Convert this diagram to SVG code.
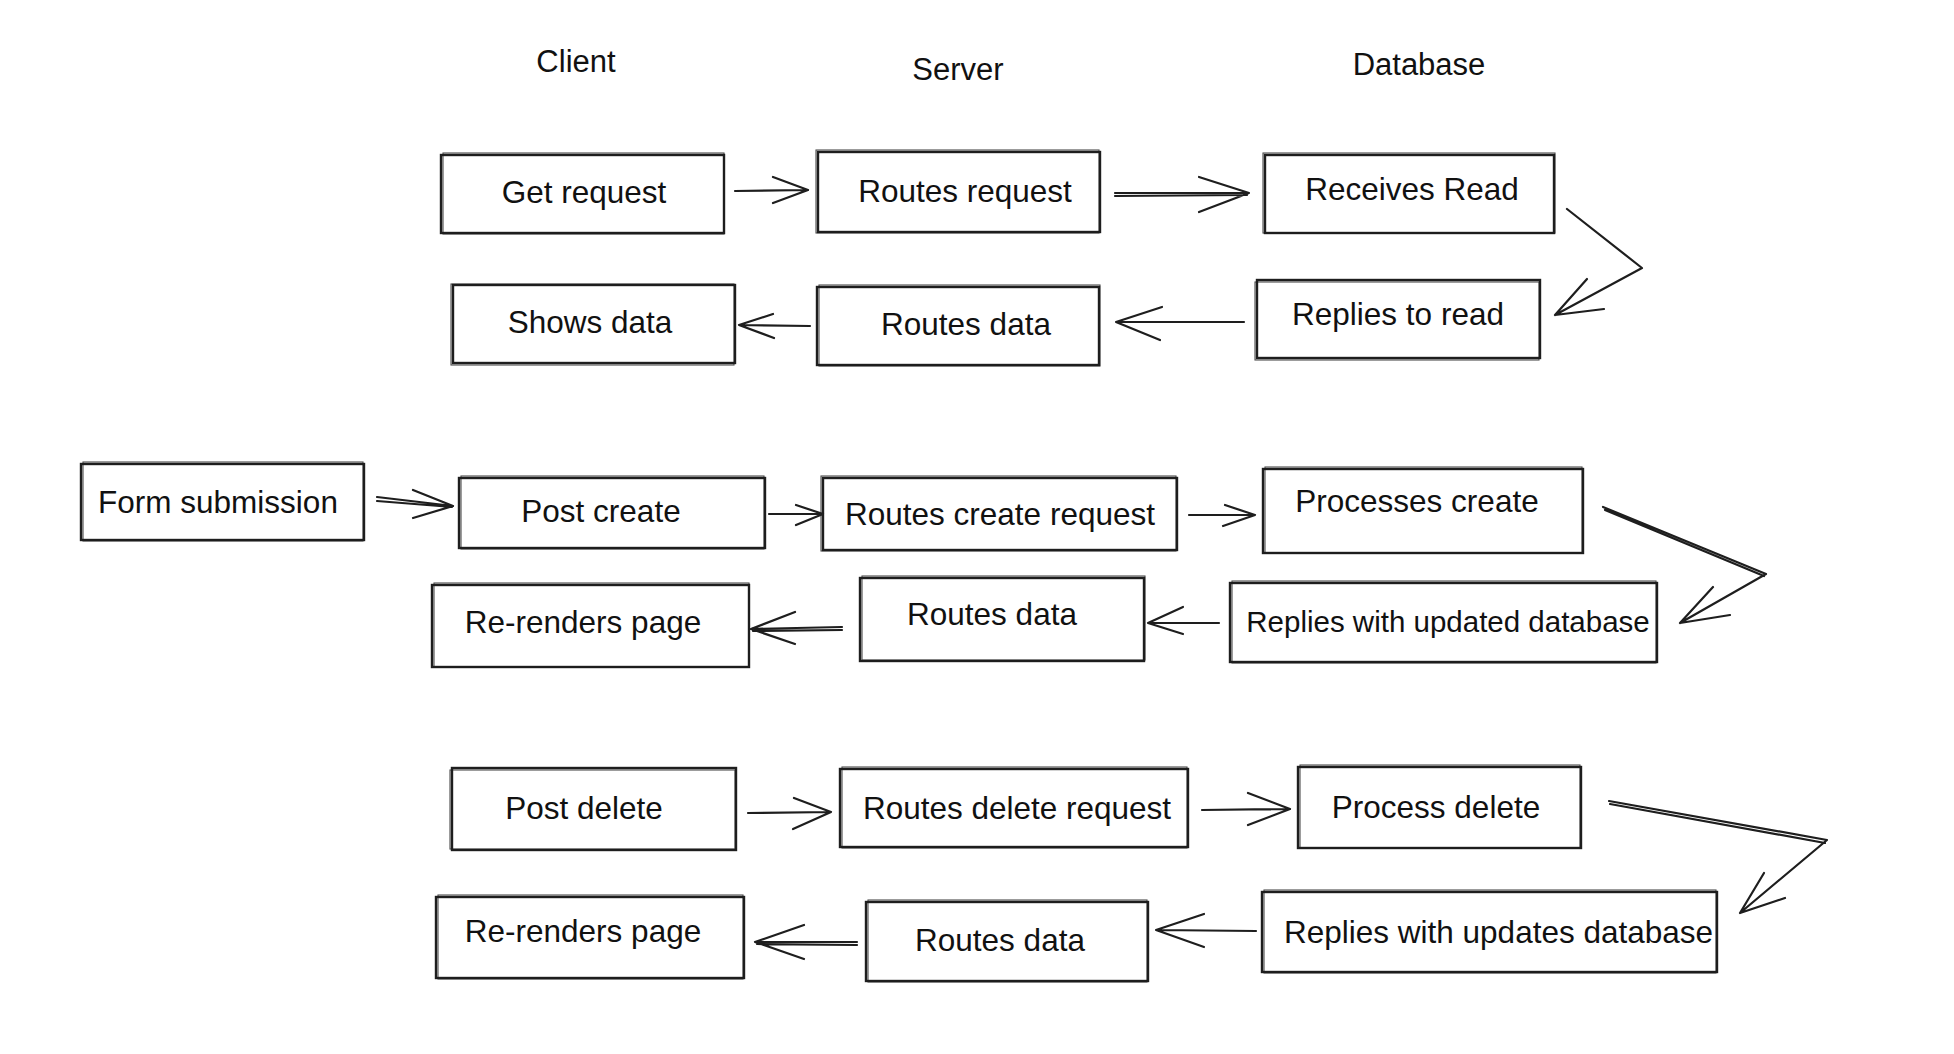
<svg xmlns="http://www.w3.org/2000/svg" width="1954" height="1054" viewBox="0 0 1954 1054">
<style>
  .bg { fill: #ffffff; }
  .box { fill: none; stroke: #1e1e1e; stroke-width: 2.4; }
  .box2 { fill: none; stroke: #1e1e1e; stroke-width: 1.1; opacity: 0.8; }
  .t { font-family: "Liberation Sans", Arial, Helvetica, sans-serif; font-size: 31.5px; fill: #111111; text-anchor: middle; }
  .h { font-family: "Liberation Sans", Arial, Helvetica, sans-serif; font-size: 31px; fill: #111111; text-anchor: middle; }
  .c { fill: none; stroke: #1e1e1e; stroke-width: 2.2; stroke-linecap: round; stroke-linejoin: round; }
</style>
<rect class="bg" x="0" y="0" width="1954" height="1054"/>

<g id="headers">
  <text class="h" x="576" y="72">Client</text>
  <text class="h" x="958" y="80">Server</text>
  <text class="h" x="1419" y="75">Database</text>
</g>

<g id="get-request">
  <rect class="box" x="441" y="155" width="283" height="78"/>
  <rect class="box2" x="443" y="153" width="281" height="81"/>
  <text class="t" x="584" y="203">Get request</text>
</g>
<g id="routes-request">
  <rect class="box" x="818" y="152" width="282" height="80"/>
  <rect class="box2" x="816" y="150" width="283" height="83"/>
  <text class="t" x="965" y="202">Routes request</text>
</g>
<g id="receives-read">
  <rect class="box" x="1265" y="155" width="289" height="78"/>
  <rect class="box2" x="1263" y="153" width="292" height="80"/>
  <text class="t" x="1412" y="200">Receives Read</text>
</g>
<g id="replies-to-read">
  <rect class="box" x="1257" y="280" width="283" height="78"/>
  <rect class="box2" x="1255" y="282" width="284" height="78"/>
  <text class="t" x="1398" y="325">Replies to read</text>
</g>
<g id="routes-data-1">
  <rect class="box" x="817" y="287" width="282" height="78"/>
  <rect class="box2" x="819" y="285" width="281" height="81"/>
  <text class="t" x="966" y="335">Routes data</text>
</g>
<g id="shows-data">
  <rect class="box" x="453" y="285" width="282" height="78"/>
  <rect class="box2" x="451" y="284" width="283" height="81"/>
  <text class="t" x="590" y="333">Shows data</text>
</g>

<g id="form-submission">
  <rect class="box" x="81" y="464" width="283" height="76"/>
  <rect class="box2" x="83" y="462" width="280" height="79"/>
  <text class="t" x="218" y="513">Form submission</text>
</g>
<g id="post-create">
  <rect class="box" x="459" y="478" width="306" height="70"/>
  <rect class="box2" x="461" y="476" width="303" height="73"/>
  <text class="t" x="601" y="522">Post create</text>
</g>
<g id="routes-create-request">
  <rect class="box" x="823" y="478" width="354" height="72"/>
  <rect class="box2" x="821" y="476" width="355" height="75"/>
  <text class="t" x="1000" y="525">Routes create request</text>
</g>
<g id="processes-create">
  <rect class="box" x="1263" y="469" width="320" height="84"/>
  <rect class="box2" x="1265" y="467" width="317" height="86"/>
  <text class="t" x="1417" y="512">Processes create</text>
</g>
<g id="replies-updated">
  <rect class="box" x="1230" y="583" width="427" height="79"/>
  <rect class="box2" x="1232" y="581" width="424" height="82"/>
  <text class="t" x="1448" y="632" style="font-size:29.5px">Replies with updated database</text>
</g>
<g id="routes-data-2">
  <rect class="box" x="860" y="578" width="284" height="83"/>
  <rect class="box2" x="862" y="576" width="283" height="84"/>
  <text class="t" x="992" y="625">Routes data</text>
</g>
<g id="re-renders-1">
  <rect class="box" x="432" y="585" width="317" height="82"/>
  <rect class="box2" x="434" y="583" width="315" height="84"/>
  <text class="t" x="583" y="633">Re-renders page</text>
</g>

<g id="post-delete">
  <rect class="box" x="452" y="768" width="284" height="82"/>
  <rect class="box2" x="450" y="770" width="285" height="79"/>
  <text class="t" x="584" y="819">Post delete</text>
</g>
<g id="routes-delete-request">
  <rect class="box" x="840" y="769" width="348" height="78"/>
  <rect class="box2" x="842" y="767" width="345" height="81"/>
  <text class="t" x="1017" y="819">Routes delete request</text>
</g>
<g id="process-delete">
  <rect class="box" x="1298" y="767" width="283" height="81"/>
  <rect class="box2" x="1300" y="765" width="280" height="83"/>
  <text class="t" x="1436" y="818">Process delete</text>
</g>
<g id="replies-updates">
  <rect class="box" x="1262" y="892" width="455" height="80"/>
  <rect class="box2" x="1264" y="890" width="452" height="83"/>
  <text class="t" x="1284" y="943" style="text-anchor:start">Replies with updates database</text>
</g>
<g id="routes-data-3">
  <rect class="box" x="866" y="902" width="282" height="79"/>
  <rect class="box2" x="868" y="900" width="279" height="82"/>
  <text class="t" x="1000" y="951">Routes data</text>
</g>
<g id="re-renders-2">
  <rect class="box" x="436" y="897" width="308" height="81"/>
  <rect class="box2" x="438" y="895" width="305" height="84"/>
  <text class="t" x="583" y="942">Re-renders page</text>
</g>

<g id="connectors">
  <path class="c" d="M735 191 L808 190 M773 177 L808 190 L773 203"/>
  <path class="c" d="M1115 193 L1249 193 M1115 196 L1247 195 M1199 177 L1249 193 L1199 212"/>
  <path class="c" d="M1567 209 L1642 268 L1555 315 M1587 279 L1555 315 L1604 309"/>
  <path class="c" d="M1244 322 L1116 322 M1162 307 L1116 322 L1160 340"/>
  <path class="c" d="M810 326 L739 325 M773 314 L739 325 L774 338"/>

  <path class="c" d="M377 497 L453 506 M377 501 L452 507 M413 490 L453 506 L413 518"/>
  <path class="c" d="M769 514 L823 514 M796 505 L823 514 L796 525"/>
  <path class="c" d="M1189 515 L1255 515 M1225 505 L1255 515 L1223 526"/>
  <path class="c" d="M1603 507 L1766 574 L1680 623 M1605 510 L1764 576 M1713 587 L1680 623 L1730 615"/>
  <path class="c" d="M1219 623 L1148 623 M1183 607 L1148 623 L1183 634"/>
  <path class="c" d="M842 627 L751 629 M842 630 L753 631 M795 612 L751 629 L795 644"/>

  <path class="c" d="M748 813 L831 812 M794 798 L831 812 L793 829"/>
  <path class="c" d="M1202 810 L1290 809 M1248 793 L1290 809 L1248 825"/>
  <path class="c" d="M1609 801 L1827 840 L1740 913 M1610 804 L1825 843 M1764 873 L1740 913 L1785 898"/>
  <path class="c" d="M1256 931 L1156 930 M1204 914 L1156 930 L1204 947"/>
  <path class="c" d="M857 942 L755 942 M857 945 L757 944 M804 925 L755 942 L804 959"/>
</g>
</svg>
